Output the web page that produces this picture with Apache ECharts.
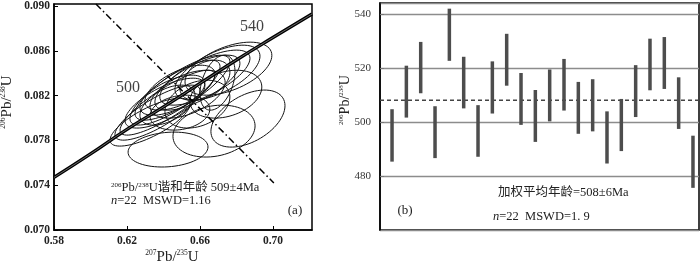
<!DOCTYPE html>
<html>
<head>
<meta charset="utf-8">
<script src="https://cdn.jsdelivr.net/npm/echarts@6/dist/echarts.min.js"></script>
<style>
  html, body { margin: 0; padding: 0; background: #fff; }
  #chart { width: 700px; height: 264px; }
</style>
</head>
<body>
<div id="chart"></div>
<script>
// (a) concordia diagram
const concordiaX = [0.58, 0.60, 0.62, 0.64, 0.66, 0.68, 0.70, 0.7214];
const concordiaY = [0.0747, 0.0768, 0.0790, 0.0810, 0.0831, 0.0852, 0.0872, 0.0893];
const ageLabels = ['500', '540'];
const ageLabelX = [0.6205, 0.6885];
const ageLabelY = [0.0827, 0.0882];
const discordX = [0.603, 0.7005];
const discordY = [0.0902, 0.0742];

// error ellipses: centre, half extent in x / y, correlation
const ellCx = [0.6326, 0.6367, 0.6422, 0.6408, 0.6463, 0.6504, 0.6449, 0.6490, 0.6532, 0.6422, 0.6586,
               0.6627, 0.6586, 0.6490, 0.6696, 0.6756, 0.6742, 0.6677, 0.6425, 0.6863, 0.6696, 0.6627];
const ellCy = [0.07964, 0.08049, 0.08138, 0.08134, 0.08228, 0.08272, 0.08205, 0.08272, 0.08214, 0.08116, 0.08317,
               0.08362, 0.08125, 0.08049, 0.08406, 0.08442, 0.08214, 0.07884, 0.07719, 0.07996, 0.08317, 0.08339];
const ellSx = [0.0219, 0.0233, 0.0260, 0.0219, 0.0247, 0.0260, 0.0178, 0.0192, 0.0206, 0.0151, 0.0233,
               0.0247, 0.0178, 0.0164, 0.0233, 0.0238, 0.0197, 0.0225, 0.0219, 0.0203, 0.0096, 0.0137];
const ellSy = [0.00214, 0.00246, 0.00290, 0.00223, 0.00290, 0.00290, 0.00179, 0.00201, 0.00214, 0.00179, 0.00246,
               0.00246, 0.00214, 0.00156, 0.00246, 0.00237, 0.00214, 0.00232, 0.00156, 0.00255, 0.00246, 0.00179];
const ellRho = [0.75, 0.8, 0.85, 0.7, 0.8, 0.8, 0.6, 0.6, 0.5, 0.5, 0.7,
                0.7, 0.3, 0.2, 0.6, 0.5, 0.3, 0.2, 0.15, 0.45, 0.4, 0.4];

// (b) weighted mean plot, 2 sigma age bars (Ma)
const spotLow  = [485.3, 501.6, 510.6, 486.6, 522.6, 505.0, 487.1, 503.1, 513.4, 498.9, 492.6,
                  500.2, 504.2, 495.6, 496.5, 484.6, 489.2, 501.8, 511.7, 512.2, 497.4, 475.6];
const spotHigh = [504.7, 520.8, 529.6, 505.8, 541.9, 524.1, 506.2, 522.4, 532.6, 518.1, 511.8,
                  519.4, 523.3, 514.8, 515.8, 503.9, 508.5, 521.0, 530.8, 531.4, 516.5, 494.9];
const meanAge = 508;

const serif = '"Liberation Serif", "Noto Sans CJK SC", serif';
const cjk = '"Liberation Serif", "Noto Sans CJK SC", sans-serif';

const chart = echarts.init(document.getElementById('chart'));

const supStyle = (size) => ({ fontSize: size, fontFamily: serif, verticalAlign: 'top', lineHeight: size, fill: '#222' });
const mainStyle = (size) => ({ fontSize: size, fontFamily: cjk, fill: '#222' });
const ratioLabel = (a, b) => `{s|${a}}{m|Pb/}{s|${b}}{m|U}`;

const ellipseData = ellCx.map((c, i) => [c, ellCy[i], ellSx[i], ellSy[i], ellRho[i]]);
const barData = spotLow.map((lo, i) => [i + 1, lo, spotHigh[i]]);

const option = {
  animation: false,
  grid: [
    { left: 54, top: 4, width: 258, height: 226, show: true, borderColor: '#000', borderWidth: 1.5, backgroundColor: 'transparent' },
    { left: 380, top: 3, width: 319, height: 227, show: true, borderColor: '#000', borderWidth: 1.5, backgroundColor: 'transparent' }
  ],
  xAxis: [
    {
      gridIndex: 0, type: 'value', min: 0.58, max: 0.7214, interval: 0.04,
      axisLine: { show: true, lineStyle: { color: '#000', width: 1.5 } },
      axisTick: { show: true, inside: true, length: 4, lineStyle: { color: '#000' } },
      splitLine: { show: false },
      axisLabel: {
        showMaxLabel: false, margin: 5, color: '#222', fontFamily: serif, fontSize: 11.5, fontWeight: 'bold',
        formatter: v => v.toFixed(2)
      }
    },
    {
      gridIndex: 1, type: 'value', min: 0.16, max: 22.42,
      axisLine: { show: false }, axisTick: { show: false }, axisLabel: { show: false }, splitLine: { show: false }
    }
  ],
  yAxis: [
    {
      gridIndex: 0, type: 'value', min: 0.070, max: 0.0902, interval: 0.004,
      axisLine: { show: true, lineStyle: { color: '#000', width: 1.5 } },
      axisTick: { show: true, inside: true, length: 4, lineStyle: { color: '#000' } },
      splitLine: { show: false },
      axisLabel: {
        showMaxLabel: false, margin: 4, color: '#222', fontFamily: serif, fontSize: 11.5, fontWeight: 'bold',
        formatter: v => v.toFixed(3)
      }
    },
    {
      gridIndex: 1, type: 'value', min: 460, max: 544, interval: 20,
      axisLine: { show: true, lineStyle: { color: '#000', width: 1.5 } },
      axisTick: { show: true, inside: true, length: 4, lineStyle: { color: '#777' } },
      splitLine: { show: true, lineStyle: { color: '#8c8c8c', width: 1.4 } },
      axisLabel: {
        showMinLabel: false, showMaxLabel: false, margin: 9, color: '#333', fontFamily: serif, fontSize: 11
      }
    }
  ],
  series: [
    {
      name: 'ellipses', type: 'custom', xAxisIndex: 0, yAxisIndex: 0, data: ellipseData,
      encode: { x: 0, y: 1 },
      renderItem: (params, api) => {
        const cx = api.value(0), cy = api.value(1), sx = api.value(2), sy = api.value(3), r = api.value(4);
        const pts = [];
        const k = Math.sqrt(1 - r * r);
        for (let j = 0; j < 72; j++) {
          const t = j / 72 * Math.PI * 2;
          pts.push(api.coord([cx + sx * Math.cos(t), cy + sy * (r * Math.cos(t) + k * Math.sin(t))]));
        }
        return { type: 'polygon', shape: { points: pts }, style: { fill: 'none', stroke: '#111', lineWidth: 1 } };
      },
      z: 3
    },
    {
      name: 'concordia', type: 'line', xAxisIndex: 0, yAxisIndex: 0, showSymbol: false, smooth: true,
      data: concordiaX.map((x, i) => [x, concordiaY[i]]),
      lineStyle: { color: '#000', width: 3.4 }, z: 4
    },
    {
      name: 'concordia inner', type: 'line', xAxisIndex: 0, yAxisIndex: 0, showSymbol: false, smooth: true,
      data: concordiaX.map((x, i) => [x, concordiaY[i]]),
      lineStyle: { color: '#fff', width: 0.7, opacity: 0.6 }, z: 5
    },
    {
      name: 'discordia', type: 'line', xAxisIndex: 0, yAxisIndex: 0, showSymbol: false,
      data: discordX.map((x, i) => [x, discordY[i]]),
      lineStyle: { color: '#000', width: 1.5, type: [7, 3, 1.5, 3] }, z: 3
    },
    {
      name: 'age labels', type: 'scatter', xAxisIndex: 0, yAxisIndex: 0, symbolSize: 0,
      data: ageLabels.map((t, i) => ({ value: [ageLabelX[i], ageLabelY[i]], name: t })),
      label: { show: true, position: 'inside', formatter: p => p.name, fontFamily: serif, fontSize: 16, color: '#111' },
      z: 6
    },
    {
      name: 'mean', type: 'line', xAxisIndex: 1, yAxisIndex: 1, showSymbol: false,
      data: [[0.16, meanAge], [22.42, meanAge]],
      lineStyle: { color: '#444', width: 1.4, type: [4, 3] }, z: 3
    },
    {
      name: 'spots', type: 'custom', xAxisIndex: 1, yAxisIndex: 1, data: barData,
      encode: { x: 0, y: [1, 2] },
      renderItem: (params, api) => {
        const lo = api.coord([api.value(0), api.value(1)]);
        const hi = api.coord([api.value(0), api.value(2)]);
        return { type: 'rect', shape: { x: lo[0] - 1.75, y: hi[1], width: 3.5, height: lo[1] - hi[1] }, style: { fill: '#4d4d4d' } };
      },
      z: 4
    }
  ],
  graphic: [
    {
      type: 'text', x: 7, y: 102, rotation: Math.PI / 2,
      style: { text: ratioLabel('206', '238'), align: 'center', verticalAlign: 'middle', rich: { s: supStyle(7.5), m: mainStyle(15) } }
    },
    {
      type: 'text', x: 172, y: 257,
      style: { text: ratioLabel('207', '235'), align: 'center', verticalAlign: 'middle', rich: { s: supStyle(7.5), m: mainStyle(15) } }
    },
    {
      type: 'text', x: 345, y: 100, rotation: Math.PI / 2,
      style: { text: ratioLabel('206', '238'), align: 'center', verticalAlign: 'middle', rich: { s: supStyle(7), m: mainStyle(14) } }
    },
    {
      type: 'text', x: 111, y: 188,
      style: {
        text: '{s|206}{m|Pb/}{s|238}{m|U谐和年龄 509±4Ma}', align: 'left', verticalAlign: 'middle',
        rich: { s: supStyle(7), m: mainStyle(12.5) }
      }
    },
    {
      type: 'text', x: 111, y: 201,
      style: {
        text: '{i|n}{m|=22  MSWD=1.16}', align: 'left', verticalAlign: 'middle',
        rich: { i: { fontSize: 12.5, fontFamily: serif, fontStyle: 'italic', fill: '#222' }, m: mainStyle(12.5) }
      }
    },
    { type: 'text', x: 295, y: 211, style: { text: '(a)', align: 'center', verticalAlign: 'middle', font: '13px ' + serif, fill: '#222' } },
    {
      type: 'text', x: 498, y: 193,
      style: { text: '加权平均年龄=508±6Ma', align: 'left', verticalAlign: 'middle', font: '12.5px ' + cjk, fill: '#222' }
    },
    { type: 'text', x: 405, y: 211, style: { text: '(b)', align: 'center', verticalAlign: 'middle', font: '13px ' + serif, fill: '#222' } },
    {
      type: 'text', x: 493, y: 217,
      style: {
        text: '{i|n}{m|=22  MSWD=1. 9}', align: 'left', verticalAlign: 'middle',
        rich: { i: { fontSize: 12.5, fontFamily: serif, fontStyle: 'italic', fill: '#222' }, m: mainStyle(12.5) }
      }
    }
  ]
};

chart.setOption(option);
</script>
</body>
</html>
